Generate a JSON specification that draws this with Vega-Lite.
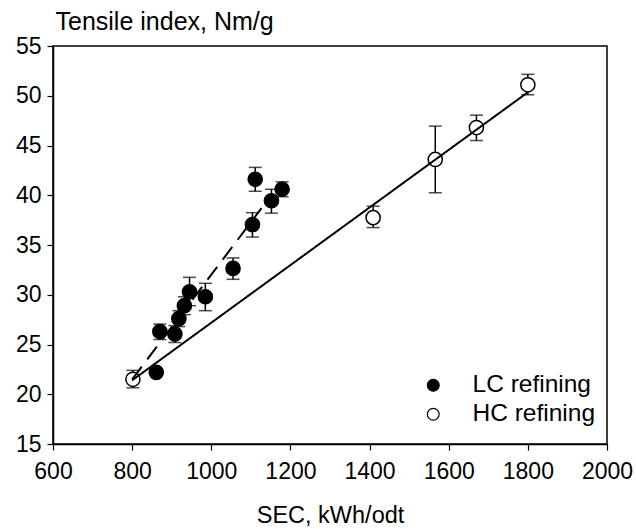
{
  "$schema": "https://vega.github.io/schema/vega-lite/v6.json",
  "autosize": {"type": "none"},
  "width": 554,
  "height": 398,
  "padding": {"left": 53, "top": 46, "right": 29, "bottom": 85},
  "background": "white",
  "config": {
    "view": {"stroke": "black", "strokeWidth": 1.5},
    "font": "Liberation Sans",
    "axis": {
      "grid": false,
      "domainColor": "black",
      "domainWidth": 1.5,
      "tickColor": "black",
      "tickWidth": 1.2,
      "tickSize": 6,
      "labelFont": "Liberation Sans",
      "labelFontSize": 23,
      "labelColor": "black",
      "labelFlush": false,
      "labelOverlap": false,
      "titleFont": "Liberation Sans",
      "titleFontSize": 24,
      "titleFontWeight": "normal",
      "titleColor": "black"
    }
  },
  "datasets": {
    "pts": [
      {"series": "LC refining", "sec": 1111, "ti": 41.6, "lo": 40.4, "hi": 42.8},
      {"series": "LC refining", "sec": 1179, "ti": 40.6, "lo": 39.85, "hi": 41.35},
      {"series": "LC refining", "sec": 1152, "ti": 39.45, "lo": 38.2, "hi": 40.6},
      {"series": "LC refining", "sec": 1104, "ti": 37.05, "lo": 35.8, "hi": 38.25},
      {"series": "LC refining", "sec": 1055, "ti": 32.65, "lo": 31.55, "hi": 33.7},
      {"series": "LC refining", "sec": 945, "ti": 30.3, "lo": 28.9, "hi": 31.75},
      {"series": "LC refining", "sec": 985, "ti": 29.8, "lo": 28.4, "hi": 31.15},
      {"series": "LC refining", "sec": 932, "ti": 28.9, "lo": 28.0, "hi": 29.8},
      {"series": "LC refining", "sec": 918, "ti": 27.6, "lo": 26.8, "hi": 28.4},
      {"series": "LC refining", "sec": 870, "ti": 26.3, "lo": 25.5, "hi": 27.05},
      {"series": "LC refining", "sec": 908, "ti": 26.05, "lo": 25.2, "hi": 26.9},
      {"series": "LC refining", "sec": 861, "ti": 22.2, "lo": 22.2, "hi": 22.2},
      {"series": "HC refining", "sec": 802, "ti": 21.5, "lo": 20.65, "hi": 22.4},
      {"series": "HC refining", "sec": 1409, "ti": 37.75, "lo": 36.75, "hi": 38.9},
      {"series": "HC refining", "sec": 1566, "ti": 43.6, "lo": 40.25, "hi": 46.95},
      {"series": "HC refining", "sec": 1670, "ti": 46.8, "lo": 45.5, "hi": 48.05},
      {"series": "HC refining", "sec": 1800, "ti": 51.1, "lo": 50.1, "hi": 52.15}
    ],
    "fits": [
      {"fit": "LC", "sec": 800, "ti": 21.5},
      {"fit": "LC", "sec": 1127, "ti": 38.7},
      {"fit": "HC", "sec": 800, "ti": 21.4},
      {"fit": "HC", "sec": 1800, "ti": 50.35}
    ]
  },
  "layer": [
    {
      "data": {"name": "pts"},
      "mark": {"type": "rule", "color": "black", "strokeWidth": 1.5},
      "encoding": {
        "x": {"field": "sec", "type": "quantitative", "scale": {"domain": [600, 2000], "nice": false},
          "axis": {"values": [600, 800, 1000, 1200, 1400, 1600, 1800, 2000], "format": "d", "title": "SEC, kWh/odt", "titleFontSize": 23.5, "labelPadding": 10, "titlePadding": 20}},
        "y": {"field": "lo", "type": "quantitative", "scale": {"domain": [15, 55], "nice": false},
          "axis": {"values": [15, 20, 25, 30, 35, 40, 45, 50, 55], "format": "d", "title": "Tensile index, Nm/g", "titleFontSize": 25, "titleAngle": 0, "titleAlign": "left", "titleBaseline": "alphabetic", "titleX": 2, "titleY": -17, "labelPadding": 6}},
        "y2": {"field": "hi"}
      }
    },
    {
      "data": {"name": "pts"},
      "mark": {"type": "tick", "color": "black", "size": 13, "thickness": 1.5, "orient": "horizontal"},
      "encoding": {
        "x": {"field": "sec", "type": "quantitative"},
        "y": {"field": "lo", "type": "quantitative"}
      }
    },
    {
      "data": {"name": "pts"},
      "mark": {"type": "tick", "color": "black", "size": 13, "thickness": 1.5, "orient": "horizontal"},
      "encoding": {
        "x": {"field": "sec", "type": "quantitative"},
        "y": {"field": "hi", "type": "quantitative"}
      }
    },
    {
      "data": {"name": "pts"},
      "mark": {"type": "point", "shape": "circle", "filled": false, "size": 200, "stroke": "black", "strokeWidth": 1.5, "opacity": 1},
      "encoding": {
        "x": {"field": "sec", "type": "quantitative"},
        "y": {"field": "ti", "type": "quantitative"},
        "fill": {"field": "series", "type": "nominal",
          "scale": {"domain": ["LC refining", "HC refining"], "range": ["black", "white"]},
          "legend": {"title": null, "orient": "none", "legendX": 368, "legendY": 327, "labelFontSize": 24.5, "labelFont": "Liberation Sans", "labelColor": "black", "labelOffset": 27, "symbolSize": 140, "symbolType": "circle", "symbolStrokeColor": "black", "symbolStrokeWidth": 1.2, "rowPadding": 4, "symbolOpacity": 1, "symbolFillColor": "white"}}
      }
    },
    {
      "data": {"name": "fits"},
      "mark": {"type": "line", "color": "black", "strokeWidth": 2},
      "encoding": {
        "x": {"field": "sec", "type": "quantitative"},
        "y": {"field": "ti", "type": "quantitative"},
        "detail": {"field": "fit", "type": "nominal"},
        "strokeDash": {"field": "fit", "type": "nominal", "scale": {"domain": ["LC", "HC"], "range": [[16, 9], [1, 0]]}, "legend": null}
      }
    }
  ]
}
